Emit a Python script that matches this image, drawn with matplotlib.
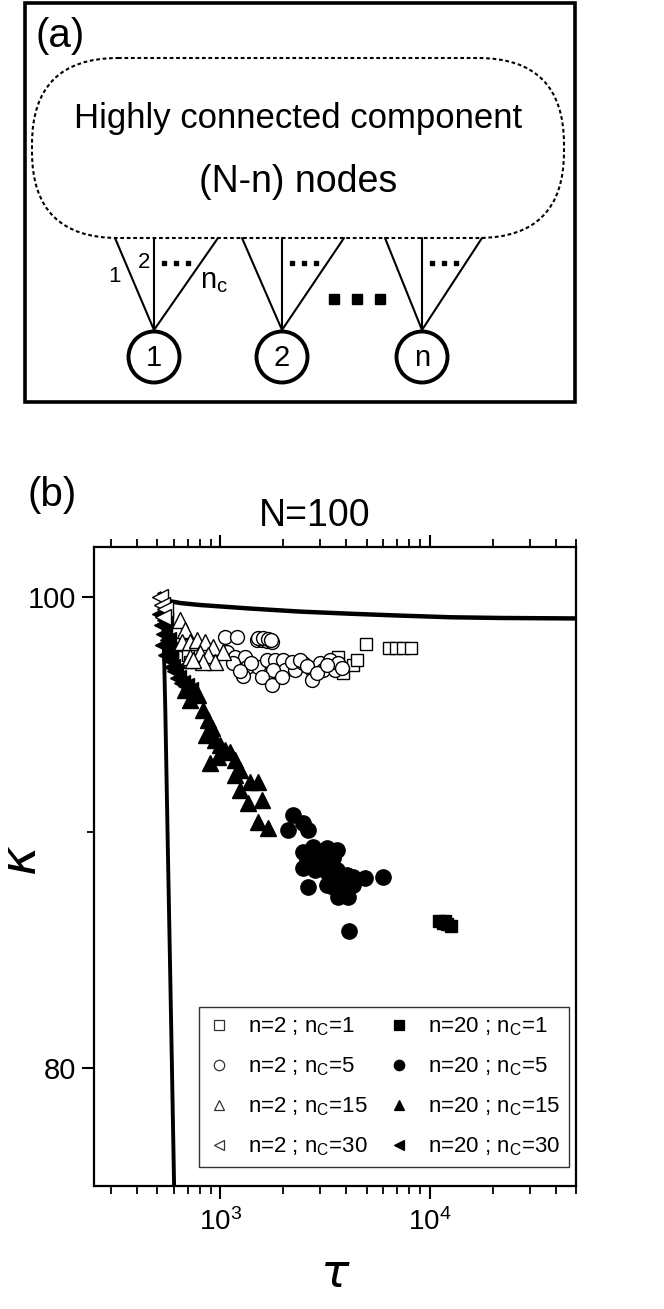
import matplotlib
matplotlib.use('Agg')
import matplotlib.pyplot as plt
from matplotlib.patches import Rectangle, FancyBboxPatch, Circle
from matplotlib.lines import Line2D
from matplotlib.ticker import MultipleLocator, NullFormatter

plt.rcParams['font.family'] = ['Liberation Sans', 'DejaVu Sans']
plt.rcParams['mathtext.fontset'] = 'dejavusans'

# ---- panel (b) data: tau (x) and kappa (y) ----
# n=2 ; nC=1 (open squares)
tau_n2_c1 = [4994, 6366, 6877, 7427, 8113, 4329, 4523, 3877, 3669, 680, 703, 718]
kap_n2_c1 = [98.00, 97.83, 97.83, 97.83, 97.83, 97.11, 97.32, 96.77, 97.45, 97.96, 97.54, 97.24]

# n=2 ; nC=5 (open circles)
tau_n2_c5 = [1057, 1206, 1503, 1589, 1679, 1774, 1080, 1180, 1317, 1154, 1346, 1520,
             1679, 1834, 2002, 2047, 1794, 1288, 1589, 1774, 1981, 2285, 2495, 2756,
             2756, 3009, 3111, 3360, 3550, 3669, 2211, 2415, 1520, 1610, 1700, 1740,
             1400, 1250, 2600, 2900, 3250, 3800]
kap_n2_c5 = [98.30, 98.30, 98.17, 98.17, 98.13, 98.09, 97.66, 97.45, 97.45, 97.20, 97.03, 96.99,
             97.32, 97.32, 97.32, 96.90, 96.90, 96.65, 96.60, 96.26, 96.60, 96.90, 97.20, 96.90,
             96.48, 97.20, 96.90, 97.32, 96.90, 97.20, 97.24, 97.32, 98.26, 98.22, 98.18, 98.15,
             97.20, 96.85, 97.05, 96.75, 97.10, 96.95]

# n=2 ; nC=15 (open triangles)
tau_n2_c15 = [644, 680, 658, 718, 776, 848, 926, 1034, 718, 802, 876, 946, 829, 743]
kap_n2_c15 = [99.02, 98.60, 98.09, 98.05, 98.17, 98.09, 97.88, 97.66, 97.45, 97.62, 97.54,
              97.24, 97.24, 97.32]

# n=2 ; nC=30 (open left triangles)
tau_n2_c30 = [516, 528, 546, 534]
kap_n2_c30 = [100.0, 99.66, 99.45, 99.15]

# n=20 ; nC=1 (filled squares)
tau_n20_c1 = [11045, 11540, 12060, 12605, 11800]
kap_n20_c1 = [86.24, 86.16, 86.12, 86.03, 86.24]

# n=20 ; nC=5 (filled circles)
tau_n20_c5 = [2236, 2115, 2495, 2638, 2495, 2786, 3251, 3629, 2609, 2911, 3251, 3473,
              2495, 2848, 3251, 3629, 4052, 4329, 4942, 5960, 3251, 3473, 3750, 4329,
              2638, 3669, 4097, 4142, 3000, 3100, 3400, 3900]
kap_n20_c5 = [90.74, 90.11, 90.40, 90.11, 89.17, 89.38, 89.34, 89.26, 88.83, 88.83, 88.83, 88.92,
              88.49, 88.41, 88.32, 88.41, 88.20, 88.11, 88.07, 88.11, 87.77, 87.69, 87.56, 87.77,
              87.69, 87.26, 87.26, 85.82, 89.00, 88.60, 88.10, 87.95]

# n=20 ; nC=15 (filled triangles)
tau_n20_c15 = [785, 829, 876, 916, 857, 946, 1000, 1057, 1116, 978, 1180, 1246, 1180,
               1392, 1520, 1246, 1589, 1361, 1520, 1697, 896, 680, 718]
kap_n20_c15 = [95.84, 95.20, 94.78, 94.44, 94.14, 93.93, 93.72, 93.50, 93.42, 93.21, 93.08,
               92.65, 92.44, 92.14, 92.14, 91.80, 91.38, 91.25, 90.45, 90.19, 92.95, 96.05, 95.63]

# n=20 ; nC=30 (filled left triangles)
tau_n20_c30 = [516, 528, 540, 534, 552, 576, 589, 609, 630, 658, 688, 718, 564, 576, 546]
kap_n20_c30 = [99.24, 98.81, 98.39, 97.96, 97.54, 97.32, 96.99, 96.82, 96.56, 96.35, 96.22,
               96.05, 98.17, 97.75, 99.02]

# theory curves
tau_upper = [517, 530, 545, 577, 650, 802, 1000, 1392, 2415, 4190, 7265, 12600, 21880, 50000]
kap_upper = [100.1, 99.95, 99.85, 99.80, 99.72, 99.64, 99.58, 99.49, 99.36, 99.27, 99.19,
             99.12, 99.09, 99.07]
tau_lower = [517, 534, 548, 561, 575, 589, 603, 615]
kap_lower = [100.1, 99.5, 95, 90, 85, 80, 75, 72]

series = [
    ('n=2 ; n$_{\\mathregular{C}}$=1', tau_n2_c1, kap_n2_c1, 's', 'white', 9),
    ('n=2 ; n$_{\\mathregular{C}}$=5', tau_n2_c5, kap_n2_c5, 'o', 'white', 10),
    ('n=2 ; n$_{\\mathregular{C}}$=15', tau_n2_c15, kap_n2_c15, '^', 'white', 11),
    ('n=2 ; n$_{\\mathregular{C}}$=30', tau_n2_c30, kap_n2_c30, '<', 'white', 11),
    ('n=20 ; n$_{\\mathregular{C}}$=1', tau_n20_c1, kap_n20_c1, 's', 'black', 9),
    ('n=20 ; n$_{\\mathregular{C}}$=5', tau_n20_c5, kap_n20_c5, 'o', 'black', 11),
    ('n=20 ; n$_{\\mathregular{C}}$=15', tau_n20_c15, kap_n20_c15, '^', 'black', 12),
    ('n=20 ; n$_{\\mathregular{C}}$=30', tau_n20_c30, kap_n20_c30, '<', 'black', 12),
]

W, H = 664, 1309
fig = plt.figure(figsize=(W / 100, H / 100), dpi=100)

# ---- panel (a): schematic drawn in pixel coordinates ----
ax_a = fig.add_axes([0, 1 - 420 / H, 1, 420 / H])
ax_a.set_xlim(0, W)
ax_a.set_ylim(420, 0)
ax_a.axis('off')

ax_a.add_patch(Rectangle((25, 3), 550, 399, fill=False, lw=2.6, ec='black'))
ax_a.add_patch(FancyBboxPatch((32, 58), 532, 180, boxstyle='round,pad=0,rounding_size=86',
                              fill=False, ec='black', lw=1.5, ls=(0, (1.8, 1.3))))
ax_a.text(36, 36, '(a)', fontsize=29, va='center', ha='left')
ax_a.text(298, 128, 'Highly connected component', fontsize=25, ha='center', va='baseline')
ax_a.text(298, 192, '(N-n) nodes', fontsize=27, ha='center', va='baseline')

groups = [(154, 115, 218, '1'), (282, 242, 344, '2'), (422, 385, 482, 'n')]
for cx, xl, xr, lab in groups:
    for xt in (xl, cx, xr):
        ax_a.plot([xt, cx], [238, 330], color='black', lw=1.5, solid_capstyle='round')
    ax_a.add_patch(Circle((cx, 357), 25.5, fill=False, ec='black', lw=2.8))
    ax_a.text(cx, 358, lab, fontsize=21, ha='center', va='center')
    ax_a.plot([cx + 10, cx + 22, cx + 34], [263, 263, 263], ls='none', marker='s',
              ms=3, color='black')

ax_a.plot([334, 357, 380], [299, 299, 299], ls='none', marker='s', ms=6.5, color='black')
ax_a.text(114, 277, '1', fontsize=16, ha='center', va='center')
ax_a.text(144, 263, '2', fontsize=16, ha='center', va='center')
ax_a.text(200, 281, 'n$_{\\mathregular{c}}$', fontsize=21, ha='left', va='center')

# ---- panel (b) ----
fig.text(27 / W, 1 - 495 / H, '(b)', fontsize=29, ha='left', va='center')
fig.text(315 / W, 1 - 516 / H, 'N=100', fontsize=27, ha='center', va='center')

ax = fig.add_axes([94 / W, 1 - 1186 / H, 482 / W, 639 / H])
ax.set_xscale('log')
ax.set_xlim(250, 50000)
ax.set_ylim(75, 102.1)

ax.plot(tau_upper, kap_upper, color='black', lw=3.2, zorder=3)
ax.plot(tau_lower, kap_lower, color='black', lw=2.8, zorder=3)

# filled series first, then open ones on top
handles = []
for label, t, k, m, fc, ms in series[4:] + series[:4]:
    ax.plot(t, k, ls='none', marker=m, ms=ms, mfc=fc, mec='black', mew=1.0, zorder=4)
for label, t, k, m, fc, ms in series:
    handles.append(Line2D([], [], ls='none', marker=m, ms=7.5, mfc=fc,
                          mec='black' if fc == 'black' else '#333333', mew=0.9, label=label))

leg = ax.legend(handles=handles, ncol=2, loc='lower right', bbox_to_anchor=(0.985, 0.03),
                fontsize=16, frameon=True, fancybox=False, edgecolor='black',
                handlelength=1.0, handletextpad=0.8, columnspacing=0.9,
                labelspacing=0.78, borderpad=0.4, borderaxespad=0)
leg.get_frame().set_linewidth(1.0)

ax.yaxis.set_major_locator(MultipleLocator(20))
ax.yaxis.set_minor_locator(MultipleLocator(10))
ax.yaxis.set_minor_formatter(NullFormatter())
ax.xaxis.set_minor_formatter(NullFormatter())

for s in ax.spines.values():
    s.set_linewidth(1.6)
ax.tick_params(axis='x', which='both', direction='out', top=True, bottom=True,
               labeltop=False, labelsize=20, pad=7)
ax.tick_params(axis='x', which='major', length=9, width=1.5)
ax.tick_params(axis='x', which='minor', length=5.5, width=1.3)
ax.tick_params(axis='y', which='both', direction='out', right=False, labelsize=21, pad=4)
ax.tick_params(axis='y', which='major', length=9, width=1.5)
ax.tick_params(axis='y', which='minor', length=5, width=1.3)

ax.set_xlabel(r'$\tau$', fontsize=34)
ax.xaxis.set_label_coords(0.5, -0.105)
ax.set_ylabel(r'$\kappa$', fontsize=36)
ax.yaxis.set_label_coords(-0.10, 0.51)

fig.savefig('out.png', dpi=100)
